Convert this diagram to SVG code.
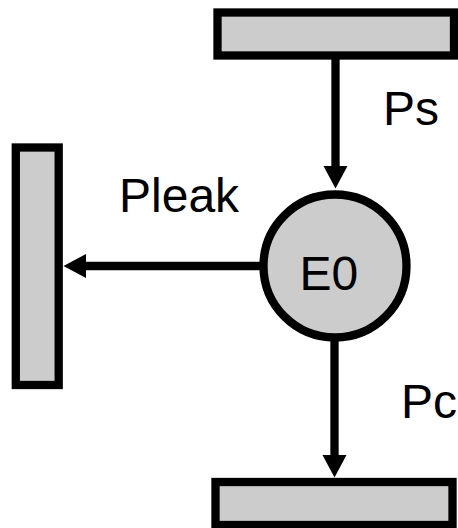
<svg xmlns="http://www.w3.org/2000/svg" width="458" height="528" viewBox="0 0 458 528">
<style>
.box{fill:#cccccc;stroke:#000000;stroke-width:8.3}
.lbl{font-family:"Liberation Sans",Arial,sans-serif;font-size:48px;fill:#000000}
.conn{stroke:#000000;stroke-width:8.3;fill:none}
</style>
<defs>
<marker id="ah" markerUnits="userSpaceOnUse" markerWidth="24" markerHeight="24" refX="0" refY="12" orient="auto" overflow="visible">
<path d="M0,0 L22.5,12 L0,24 Z" fill="#000000"/>
</marker>
</defs>
<rect width="458" height="528" fill="#ffffff"/>
<g id="connectors">
<line class="conn" x1="335.5" y1="59" x2="335.5" y2="166" marker-end="url(#ah)"/>
<line class="conn" x1="262" y1="266" x2="86" y2="266" marker-end="url(#ah)"/>
<line class="conn" x1="334.5" y1="340" x2="334.5" y2="455" marker-end="url(#ah)"/>
</g>
<g id="source">
<rect class="box" x="217.5" y="12.5" width="236.5" height="43"/>
</g>
<g id="leak">
<rect class="box" x="15.8" y="147.5" width="42.9" height="237.5"/>
</g>
<g id="sink">
<rect class="box" x="215.5" y="482" width="237" height="43"/>
</g>
<g id="E0">
<circle class="box" cx="335" cy="266" r="71.5"/>
<text class="lbl" x="299.5" y="290">E0</text>
</g>
<g id="labels">
<text class="lbl" x="383" y="124.5">Ps</text>
<text class="lbl" x="119" y="212">Pleak</text>
<text class="lbl" x="401" y="418">Pc</text>
</g>
</svg>
